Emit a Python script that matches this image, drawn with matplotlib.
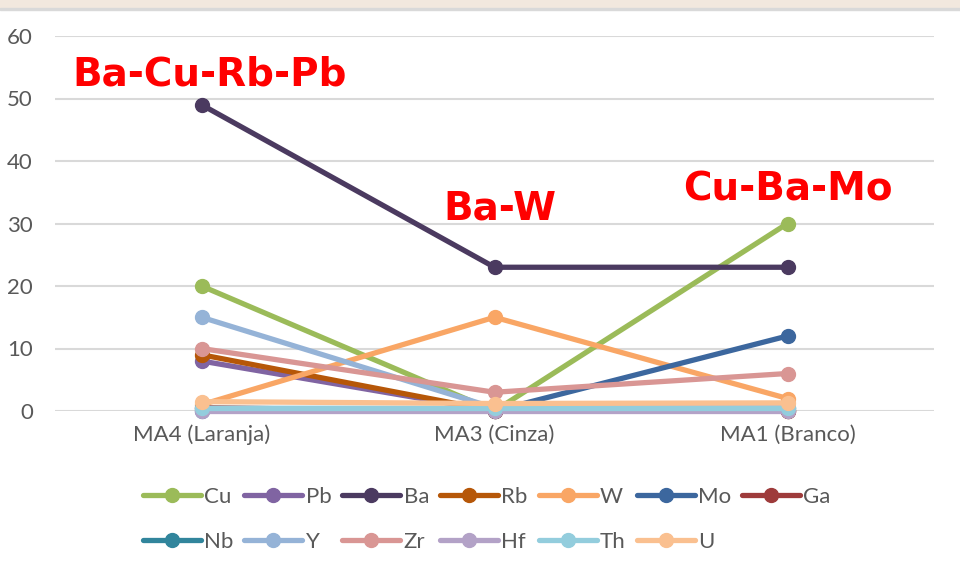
import matplotlib
matplotlib.use("Agg")
import matplotlib.pyplot as plt
from matplotlib.patches import Rectangle

# data
samples = ["MA4 (Laranja)", "MA3 (Cinza)", "MA1 (Branco)"]
elements = ["Cu", "Pb", "Ba", "Rb", "W", "Mo", "Ga", "Nb", "Y", "Zr", "Hf", "Th", "U"]
Cu = [20, 0, 30]
Pb = [8, 0, 0]
Ba = [49, 23, 23]
Rb = [9, 0, 0]
W = [1, 15, 2]
Mo = [0, 0, 12]
Ga = [0.5, 0, 0]
Nb = [0.5, 0.5, 0.5]
Y = [15, 0.5, 0.5]
Zr = [10, 3, 6]
Hf = [0, 0, 0]
Th = [0.5, 0.5, 0.5]
U = [1.5, 1.2, 1.3]
series = [Cu, Pb, Ba, Rb, W, Mo, Ga, Nb, Y, Zr, Hf, Th, U]
colors = ["#9bbb59", "#8064a2", "#4b3a60", "#b65708", "#f9a665", "#3c679e",
          "#9e3b3b", "#31859c", "#95b3d7", "#d99694", "#b3a2c7", "#93cddd", "#fac090"]

plt.rcParams["font.family"] = ["Lato", "DejaVu Sans"]

fig = plt.figure(figsize=(9.6, 5.7), dpi=100)
fig.patches.append(Rectangle((0, 1 - 8 / 570), 1, 8 / 570, transform=fig.transFigure,
                             color="#f2e8de", zorder=0))
fig.patches.append(Rectangle((0, 1 - 10 / 570), 1, 2 / 570, transform=fig.transFigure,
                             color="#d9d9d9", zorder=0))

ax = fig.add_axes([55 / 960, 1 - 411 / 570, 879 / 960, 375 / 570])
x = list(range(len(samples)))
lines = []
for name, vals, c in zip(elements, series, colors):
    ln, = ax.plot(x, vals, color=c, lw=3.8, marker="o", ms=10, label=name,
                  solid_capstyle="round", clip_on=False)
    lines.append(ln)

ax.set_xlim(-0.5, 2.5)
ax.set_ylim(0, 60)
ax.set_yticks(range(0, 61, 10))
ax.set_xticks(x)
ax.set_xticklabels(samples)
ax.grid(axis="y", color="#d9d9d9", lw=1.5)
ax.set_axisbelow(True)
for s in ax.spines.values():
    s.set_visible(False)
ax.tick_params(length=0, labelsize=16, labelcolor="#595959")
ax.tick_params(axis="x", pad=10)
ax.tick_params(axis="y", pad=16)

red = "#ff0000"
ax.text(-0.44, 53.8, "Ba-Cu-Rb-Pb", color=red, fontsize=28, fontweight="bold",
        family="DejaVu Sans", va="center")
ax.text(1.02, 32.4, "Ba-W", color=red, fontsize=28, fontweight="bold",
        family="DejaVu Sans", va="center", ha="center")
ax.text(2.0, 35.5, "Cu-Ba-Mo", color=red, fontsize=28, fontweight="bold",
        family="DejaVu Sans", va="center", ha="center")

# legend filled row by row: Cu..Ga on the first row, Nb..U on the second
order = [0, 7, 1, 8, 2, 9, 3, 10, 4, 11, 5, 12, 6]
leg = fig.legend([lines[i] for i in order], [elements[i] for i in order],
                 loc="upper left", bbox_to_anchor=(134 / 960, 1 - 478 / 570), ncol=7,
                 frameon=False, fontsize=16, handlelength=2.6, handletextpad=0.15,
                 columnspacing=0.5, labelspacing=1.12, borderaxespad=0)
for t in leg.get_texts():
    t.set_color("#595959")

fig.savefig("out.png", dpi=100)
